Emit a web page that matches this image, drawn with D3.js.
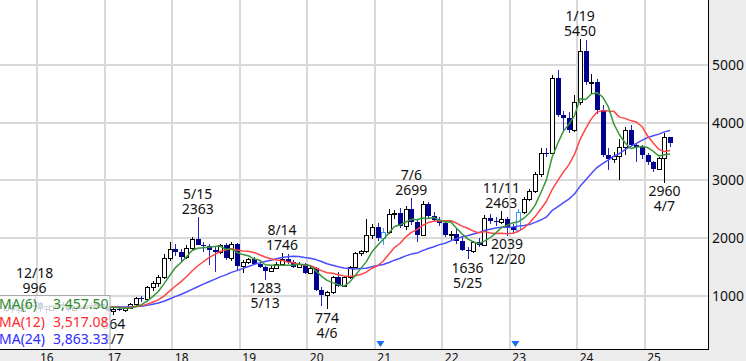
<!DOCTYPE html>
<html><head><meta charset="utf-8">
<script src="https://cdn.jsdelivr.net/npm/d3@7/dist/d3.min.js"></script>
<style>
html,body{margin:0;padding:0;background:#fff;overflow:hidden;}
svg{display:block;font-family:"Noto Sans",sans-serif;}
</style></head><body>
<svg id="c" width="746" height="361"></svg>
<script>
// ---------------- DATA ----------------
const months = [
 "2015-07","2015-08","2015-09","2015-10","2015-11","2015-12",
 "2016-01","2016-02","2016-03","2016-04","2016-05","2016-06","2016-07","2016-08","2016-09","2016-10","2016-11","2016-12",
 "2017-01","2017-02","2017-03","2017-04","2017-05","2017-06","2017-07","2017-08","2017-09","2017-10","2017-11","2017-12",
 "2018-01","2018-02","2018-03","2018-04","2018-05","2018-06","2018-07","2018-08","2018-09","2018-10","2018-11","2018-12",
 "2019-01","2019-02","2019-03","2019-04","2019-05","2019-06","2019-07","2019-08","2019-09","2019-10","2019-11","2019-12",
 "2020-01","2020-02","2020-03","2020-04","2020-05","2020-06","2020-07","2020-08","2020-09","2020-10","2020-11","2020-12",
 "2021-01","2021-02","2021-03","2021-04","2021-05","2021-06","2021-07","2021-08","2021-09","2021-10","2021-11","2021-12",
 "2022-01","2022-02","2022-03","2022-04","2022-05","2022-06","2022-07","2022-08","2022-09","2022-10","2022-11","2022-12",
 "2023-01","2023-02","2023-03","2023-04","2023-05","2023-06","2023-07","2023-08","2023-09","2023-10","2023-11","2023-12",
 "2024-01","2024-02","2024-03","2024-04","2024-05","2024-06","2024-07","2024-08","2024-09","2024-10","2024-11","2024-12",
 "2025-01","2025-02","2025-03","2025-04","2025-05"
];
const opens = [
 760,850,760,740,840,900,
 880,780,760,830,860,840,760,800,790,820,850,860,
 790,740,770,760,790,860,970,940,1150,1220,1330,1650,
 1810,1760,1680,1830,1990,1890,1860,1800,1760,1880,1660,1900,
 1520,1580,1640,1560,1500,1440,1480,1560,1640,1580,1500,1550,
 1400,1480,1110,1020,1060,1320,1180,1330,1500,1740,1770,2050,
 2200,2000,2100,2420,2440,2220,2500,2280,2060,2600,2380,2320,
 2260,2060,2080,1950,1800,1780,1940,1880,2350,2300,2280,2330,
 2190,2140,2460,2680,2820,3120,3480,3475,4780,4140,4080,3880,
 4360,5250,4700,4710,4220,3440,3380,3420,3580,3880,3620,3580,
 3440,3320,3200,3390,3750
];
const highs = [
 880,900,800,860,930,996,
 900,820,850,880,900,860,820,830,850,870,880,900,
 820,790,830,800,880,990,1000,1180,1260,1360,1720,1940,
 1900,1820,1880,2020,2363,1940,1900,1870,1900,1920,1930,1920,
 1620,1660,1680,1620,1520,1520,1580,1746,1720,1620,1590,1570,
 1520,1500,1160,1080,1340,1420,1350,1520,1760,1800,2340,2250,
 2260,2180,2500,2480,2520,2560,2699,2330,2640,2630,2450,2360,
 2300,2120,2160,2020,1840,1960,2000,2400,2420,2360,2463,2370,
 2240,2500,2720,2860,3150,3560,3560,4826,4913,4200,4180,4480,
 5450,5432,4850,4760,4300,3560,3500,3720,3920,3960,3650,3620,
 3480,3340,3410,3820,3760
];
const lows = [
 720,700,690,730,820,850,
 720,700,750,790,820,720,740,760,770,800,760,770,
 720,664,740,720,770,830,900,900,1080,1150,1300,1600,
 1700,1590,1640,1800,1880,1760,1540,1420,1720,1620,1600,1450,
 1400,1560,1540,1480,1283,1420,1460,1540,1560,1480,1480,1380,
 1380,1080,830,774,1040,1160,1150,1300,1480,1700,1740,1980,
 1950,1880,2080,2330,2180,2150,2230,1940,2040,2350,2280,2220,
 2020,1960,1900,1780,1636,1740,1850,1870,2250,2220,2240,2039,
 2080,2120,2420,2640,2780,3060,3400,3460,4100,3840,3830,3840,
 4300,4650,4500,4150,3400,3181,3300,3000,3440,3600,3320,3380,
 3260,3150,3180,2960,3580
];
const closes = [
 850,760,740,840,900,880,
 780,760,830,860,840,760,800,790,820,850,860,790,
 740,770,760,790,860,970,940,1150,1220,1330,1650,1810,
 1760,1680,1830,1990,1890,1860,1800,1760,1880,1660,1900,1520,
 1580,1640,1560,1500,1440,1480,1560,1640,1580,1500,1550,1400,
 1480,1110,1020,1060,1320,1180,1330,1500,1740,1770,2050,2200,
 2000,2100,2420,2440,2220,2500,2280,2060,2600,2380,2320,2260,
 2060,2080,1950,1800,1780,1940,1880,2350,2300,2280,2330,2190,
 2140,2460,2680,2820,3120,3480,3475,4780,4140,4080,3880,4360,
 5250,4700,4710,4220,3440,3380,3420,3580,3880,3620,3580,3440,
 3320,3200,3390,3750,3645
];
// months drawn with the light-blue outline and marker dates (start of month)
const specialMonths = ["2021-02","2023-02"];
const markerMonths = ["2021-02","2023-02"];
// high / low annotations
const annMonths = ["2015-12","2017-02","2018-05","2019-05","2019-08","2020-04","2021-07","2022-05","2022-11","2022-12","2024-01","2025-04"];
const annDates  = ["12/18","2/7","5/15","5/13","8/14","4/6","7/6","5/25","11/11","12/20","1/19","4/7"];
const annKinds  = ["high","low","high","low","high","low","high","low","high","low","high","low"];
// axes
const yearTicks = ["2016","2017","2018","2019","2020","2021","2022","2023","2024","2025"];
const yearLabels = ["16","17","18","19","20","21","22","23","24","25"];
const priceTicks = [1000,2000,3000,4000,5000];
// moving averages
const maPeriods = [6,12,24];
const maNames = ["MA(6)","MA(12)","MA(24)"];
const maColors = ["#3a963a","#ff4545","#4b4bff"];
const maTextColors = ["#2e8a2e","#ff2a2a","#2c2cff"];

// ---------------- DRAW ----------------
const W=746,H=361, plotR=708, plotB=349.5;
const svg=d3.select("#c");
svg.append("rect").attr("width",W).attr("height",H).attr("fill","#ececec");
svg.append("rect").attr("x",0).attr("y",0).attr("width",plotR).attr("height",plotB).attr("fill","#fff");

const monthIndex = m => { const [yy,mo]=m.split("-").map(Number); return (yy-2016)*12+(mo-1); };
const x = d3.scaleLinear().domain([-6.65,119.25]).range([0,plotR]);
const y = d3.scaleLinear().domain([0,6125]).range([353.7,0]);

const defs=svg.append("defs");
defs.append("clipPath").attr("id","clip").append("rect").attr("x",0).attr("y",0).attr("width",plotR).attr("height",plotB);
const plot=svg.append("g").attr("clip-path","url(#clip)");

// grid
plot.append("g").selectAll("line").data(yearTicks).join("line")
  .attr("x1",d=>Math.round(x(monthIndex(d+"-01")))).attr("x2",d=>Math.round(x(monthIndex(d+"-01"))))
  .attr("y1",0).attr("y2",plotB).attr("stroke","#d9d9d9").attr("stroke-width",2);
plot.append("g").selectAll("line").data(priceTicks).join("line")
  .attr("x1",0).attr("x2",plotR).attr("y1",d=>Math.round(y(d))).attr("y2",d=>Math.round(y(d)))
  .attr("stroke","#d9d9d9").attr("stroke-width",2);

// candles
const data = months.map((m,i)=>({m,i:monthIndex(m),o:opens[i],h:highs[i],l:lows[i],c:closes[i],sp:specialMonths.includes(m)}));
const cx = d => Math.round(x(d.i+0.5));
const upCol="#000", downFill="#00008f", downWick="#2323c4", spCol="#3b9bff";
const cg = plot.append("g");
cg.selectAll("line").data(data).join("line")
  .attr("x1",d=>cx(d)+0.5).attr("x2",d=>cx(d)+0.5)
  .attr("y1",d=>Math.round(y(d.h))).attr("y2",d=>Math.round(y(d.l)))
  .attr("stroke",d=>d.sp?spCol:(d.c>=d.o?upCol:downWick)).attr("stroke-width",1);
cg.selectAll("rect").data(data).join("rect")
  .each(function(d){
    const top=Math.round(y(Math.max(d.o,d.c))), bot=Math.round(y(Math.min(d.o,d.c)));
    const r=d3.select(this);
    if(d.c>=d.o || d.sp){
      r.attr("x",cx(d)-1.5).attr("y",top+0.5).attr("width",4).attr("height",Math.max(1,bot-top))
       .attr("fill","#fff").attr("stroke",d.sp?spCol:upCol).attr("stroke-width",1);
    } else {
      r.attr("x",cx(d)-2).attr("y",top).attr("width",5).attr("height",Math.max(1,bot-top))
       .attr("fill",downFill);
    }
  });

// moving averages
function sma(n){ return closes.map((_,i)=>d3.mean(closes.slice(Math.max(0,i-n+1),i+1))); }
const maSeries = maPeriods.map(sma);
const line = d3.line().x((v,i)=>x(data[i].i+0.5)).y(v=>y(v));
[2,1,0].forEach(k=>{
  plot.append("path").attr("d",line(maSeries[k])).attr("fill","none")
    .attr("stroke",maColors[k]).attr("stroke-width",1.5).attr("stroke-linejoin","round");
});

// annotations
const ann = svg.append("g").attr("font-size",14).attr("fill","#111").attr("text-anchor","middle");
annMonths.forEach((m,k)=>{
  const d = data[months.indexOf(m)];
  const xx = x(d.i+0.5);
  if(annKinds[k]==="high"){
    const yy=y(d.h);
    ann.append("text").attr("x",xx).attr("y",yy-3).text(d.h);
    ann.append("text").attr("x",xx).attr("y",yy-18).text(annDates[k]);
  } else {
    const yy=y(d.l);
    ann.append("text").attr("x",xx).attr("y",yy+13.5).text(d.l);
    ann.append("text").attr("x",xx).attr("y",yy+28.5).text(annDates[k]);
  }
});

// markers
svg.append("g").selectAll("path").data(markerMonths).join("path")
  .attr("d",d=>{const xx=x(monthIndex(d)); return `M${xx-4},341L${xx+4},341L${xx},347Z`;})
  .attr("fill","#1a6cff");

// legend
const lg = svg.append("g");
lg.append("rect").attr("x",-1.5).attr("y",295.5).attr("width",111.5).attr("height",54)
  .attr("fill","#fff").attr("fill-opacity",0.8).attr("stroke","#a8a8a8");
const fmt = d3.format(",.2f");
const legendY=[308.5,326.5,344];
maNames.forEach((nm,k)=>{
  lg.append("text").attr("x",-1).attr("y",legendY[k]).attr("font-size",14).attr("fill",maTextColors[k]).text(nm);
  lg.append("text").attr("x",108.5).attr("y",legendY[k]).attr("font-size",14).attr("text-anchor","end")
    .attr("fill",maTextColors[k]).text(fmt(maSeries[k][maSeries[k].length-1]));
});

// frame lines
svg.append("line").attr("x1",708.5).attr("x2",708.5).attr("y1",0).attr("y2",350).attr("stroke","#000");
svg.append("line").attr("x1",0).attr("x2",709).attr("y1",349.5).attr("y2",349.5).attr("stroke","#000");

// right axis
const ya = svg.append("g").attr("transform","translate(708,0)")
  .call(d3.axisRight(y).tickValues(priceTicks).tickSize(0).tickPadding(4).tickFormat(d3.format("d")));
ya.select(".domain").remove();
ya.selectAll("text").attr("font-size",14).attr("font-family","Noto Sans").attr("fill","#111");

// bottom axis
const xa = svg.append("g").attr("transform","translate(0,350)")
  .call(d3.axisBottom(x).tickValues(yearTicks.map(t=>monthIndex(t+"-01"))).tickSize(0).tickPadding(3)
    .tickFormat((d,i)=>yearLabels[i]));
xa.select(".domain").remove();
xa.selectAll("text").attr("font-size",12).attr("font-family","Noto Sans").attr("fill","#111")
  .attr("text-anchor","start").attr("x",2);
</script>
</body></html>
